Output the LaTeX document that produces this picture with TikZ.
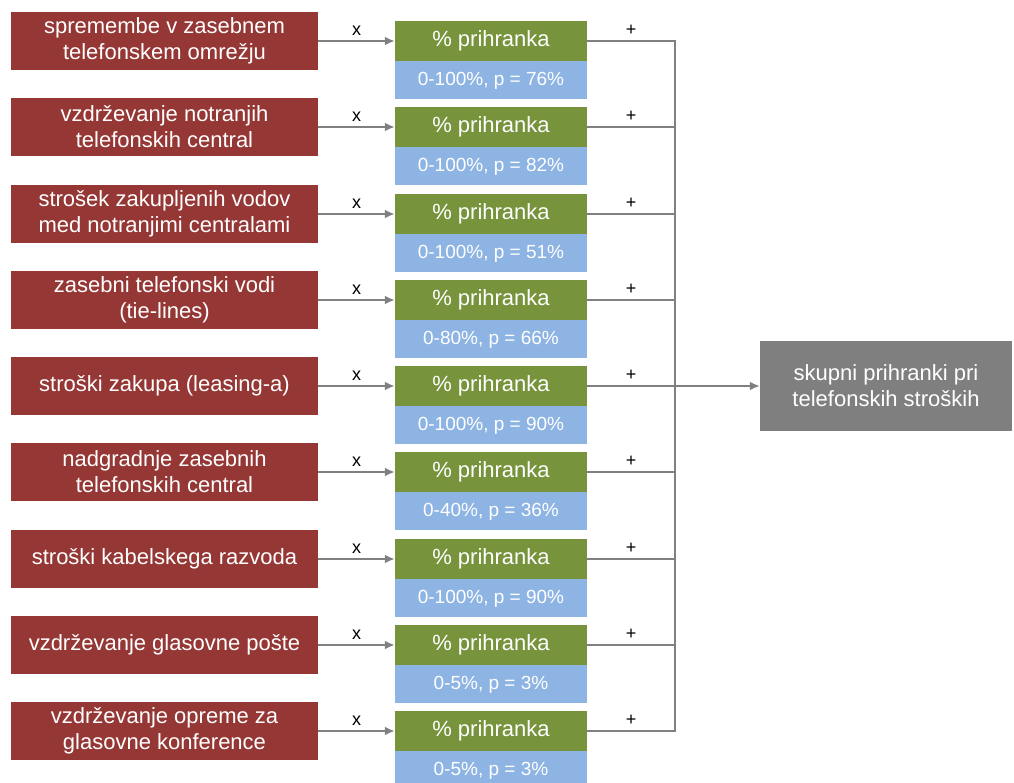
\documentclass[tikz,border=0pt]{standalone}
\usepackage{fontspec}
\setmainfont{Liberation Sans}
\usepackage{tikz}
\usetikzlibrary{arrows.meta, positioning}
\usepackage{xcolor}
\definecolor{causeRed}{HTML}{953735}
\definecolor{saveGreen}{HTML}{77933C}
\definecolor{rangeBlue}{HTML}{8EB4E3}
\definecolor{totalGray}{HTML}{7F7F7F}
\definecolor{wireGray}{HTML}{808080}

\begin{document}
\begin{tikzpicture}[
        x=1pt, y=-1pt,
        node distance=0pt,
        causebox/.style={fill=causeRed, text=white, minimum width=307pt, minimum height=58pt, inner sep=0pt, align=center, font=\fontsize{22}{26}\selectfont},
        savebox/.style={fill=saveGreen, text=white, minimum width=192pt, minimum height=40pt, inner sep=0pt, font=\fontsize{22}{26}\selectfont},
        rangebox/.style={fill=rangeBlue, text=white, minimum width=192pt, minimum height=38pt, inner sep=0pt, font=\fontsize{19}{22}\selectfont},
        totalbox/.style={fill=totalGray, text=white, minimum width=252pt, minimum height=90pt, inner sep=0pt, align=center, font=\fontsize{22}{26}\selectfont},
        wire/.style={draw=wireGray, line width=2.6pt},
        feed/.style={wire, -{Latex[length=10pt, width=9pt]}},
        op_label/.style={above, inner sep=4pt, font=\fontsize{18}{20}\selectfont}
    ]
        \useasboundingbox (0,0) rectangle (1014,783);

        % Vzroki stroškov
        \node[causebox] (C1) at (164.5, 41) {spremembe v zasebnem\\telefonskem omrežju};
        \node[causebox] (C2) at (164.5, 127) {vzdrževanje notranjih\\telefonskih central};
        \node[causebox] (C3) at (164.5, 214) {strošek zakupljenih vodov\\med notranjimi centralami};
        \node[causebox] (C4) at (164.5, 300) {zasebni telefonski vodi\\(tie-lines)};
        \node[causebox] (C5) at (164.5, 386) {stroški zakupa (leasing-a)};
        \node[causebox] (C6) at (164.5, 472) {nadgradnje zasebnih\\telefonskih central};
        \node[causebox] (C7) at (164.5, 559) {stroški kabelskega razvoda};
        \node[causebox] (C8) at (164.5, 645) {vzdrževanje glasovne pošte};
        \node[causebox] (C9) at (164.5, 731) {vzdrževanje opreme za\\glasovne konference};

        % Prihranki
        \node[savebox] (P1) at (491, 41) {\% prihranka};
        \node[savebox] (P2) at (491, 127) {\% prihranka};
        \node[savebox] (P3) at (491, 214) {\% prihranka};
        \node[savebox] (P4) at (491, 300) {\% prihranka};
        \node[savebox] (P5) at (491, 386) {\% prihranka};
        \node[savebox] (P6) at (491, 472) {\% prihranka};
        \node[savebox] (P7) at (491, 559) {\% prihranka};
        \node[savebox] (P8) at (491, 645) {\% prihranka};
        \node[savebox] (P9) at (491, 731) {\% prihranka};

        % Razponi
        \node[rangebox, below=of P1] (R1) {0-100\%, p = 76\%};
        \node[rangebox, below=of P2] (R2) {0-100\%, p = 82\%};
        \node[rangebox, below=of P3] (R3) {0-100\%, p = 51\%};
        \node[rangebox, below=of P4] (R4) {0-80\%, p = 66\%};
        \node[rangebox, below=of P5] (R5) {0-100\%, p = 90\%};
        \node[rangebox, below=of P6] (R6) {0-40\%, p = 36\%};
        \node[rangebox, below=of P7] (R7) {0-100\%, p = 90\%};
        \node[rangebox, below=of P8] (R8) {0-5\%, p = 3\%};
        \node[rangebox, below=of P9] (R9) {0-5\%, p = 3\%};

        % Skupaj
        \node[totalbox] (T) at (886, 386) {skupni prihranki pri\\telefonskih stroških};

        \coordinate (busTop) at (675, 41);
        \coordinate (busBot) at (675, 731);

        % Množenje
        \draw[feed] (C1) -- node[op_label] {x} (P1);
        \draw[feed] (C2) -- node[op_label] {x} (P2);
        \draw[feed] (C3) -- node[op_label] {x} (P3);
        \draw[feed] (C4) -- node[op_label] {x} (P4);
        \draw[feed] (C5) -- node[op_label] {x} (P5);
        \draw[feed] (C6) -- node[op_label] {x} (P6);
        \draw[feed] (C7) -- node[op_label] {x} (P7);
        \draw[feed] (C8) -- node[op_label] {x} (P8);
        \draw[feed] (C9) -- node[op_label] {x} (P9);

        % Seštevanje
        \draw[wire] (P1.east) -- node[op_label] {+} (P1.east -| busTop);
        \draw[wire] (P2.east) -- node[op_label] {+} (P2.east -| busTop);
        \draw[wire] (P3.east) -- node[op_label] {+} (P3.east -| busTop);
        \draw[wire] (P4.east) -- node[op_label] {+} (P4.east -| busTop);
        \draw[wire] (P5.east) -- node[op_label] {+} (P5.east -| busTop);
        \draw[wire] (P6.east) -- node[op_label] {+} (P6.east -| busTop);
        \draw[wire] (P7.east) -- node[op_label] {+} (P7.east -| busTop);
        \draw[wire] (P8.east) -- node[op_label] {+} (P8.east -| busTop);
        \draw[wire] (P9.east) -- node[op_label] {+} (P9.east -| busTop);
        \draw[wire, line cap=rect] (busTop) -- (busBot);
        \draw[feed] (P5.east -| busTop) -- (T);
    \end{tikzpicture}
\end{document}
